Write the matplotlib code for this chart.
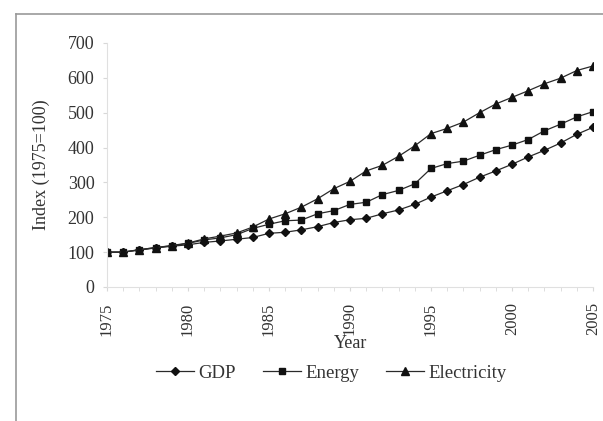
import matplotlib
matplotlib.use('Agg')
import matplotlib.pyplot as plt
from matplotlib.lines import Line2D

years = list(range(1975, 2006))
gdp = [100, 100, 106, 112, 117, 121, 128, 132, 137, 142, 154, 157, 164, 173, 185, 193,
       197, 210, 221, 237, 258, 276, 294, 315, 333, 352, 373, 392, 413, 438, 458]
energy = [100, 100, 107, 113, 118, 125, 135, 141, 150, 168, 180, 190, 192, 210, 219, 237,
          243, 265, 277, 296, 340, 354, 361, 378, 394, 407, 423, 448, 467, 488, 503]
electricity = [100, 100, 107, 113, 119, 126, 138, 146, 155, 172, 195, 210, 229, 253, 282, 303,
               333, 349, 375, 405, 440, 455, 473, 500, 525, 544, 563, 583, 599, 621, 634]

plt.rcParams['font.family'] = ['Liberation Serif', 'DejaVu Serif']

fig = plt.figure(figsize=(6.03, 4.21), dpi=100)
ax = fig.add_axes([0.1774, 0.3183, 0.806, 0.5796])

lc = '#2a2a2a'
ax.plot(years, gdp, color=lc, lw=0.9, marker='D', ms=4, mfc='#111', mec='#111', label='GDP')
ax.plot(years, energy, color=lc, lw=0.9, marker='s', ms=5, mfc='#111', mec='#111', label='Energy')
ax.plot(years, electricity, color=lc, lw=0.9, marker='^', ms=5.5, mfc='#111', mec='#111', label='Electricity')

ax.set_xlim(1975, 2005)
ax.set_ylim(0, 700)
ax.set_xticks(range(1975, 2006, 5))
ax.set_xticks(years, minor=True)
ax.set_yticks(range(0, 701, 100))
for s in ['top', 'right']:
    ax.spines[s].set_visible(False)
for s in ['left', 'bottom']:
    ax.spines[s].set_color('#e0e0e0')
ax.tick_params(axis='both', which='both', color='#d8d8d8', labelcolor='#333')
ax.tick_params(axis='x', which='major', length=3, pad=8, labelsize=12)
ax.tick_params(axis='x', which='minor', length=3)
ax.tick_params(axis='y', length=3, pad=6, labelsize=13)
for lab in ax.get_xticklabels():
    lab.set_rotation(90)

fig.text(0.068, 0.61, 'Index (1975=100)', rotation=90, ha='center', va='center',
         fontsize=13, color='#333')
fig.text(0.5805, 0.185, 'Year', ha='center', va='center', fontsize=13, color='#333')

fig.legend(loc='center', bbox_to_anchor=(0.55, 0.114), ncol=3, frameon=False,
           fontsize=13.5, handlelength=2.0, columnspacing=1.45, handletextpad=0.25,
           labelcolor='#333')

# outer frame (top and left visible)
fig.add_artist(Line2D([16 / 603, 1.0], [1 - 14 / 421, 1 - 14 / 421], color='#999', lw=1.2))
fig.add_artist(Line2D([16 / 603, 16 / 603], [0, 1 - 14 / 421], color='#999', lw=1.2))

fig.savefig('out.png', dpi=100)
